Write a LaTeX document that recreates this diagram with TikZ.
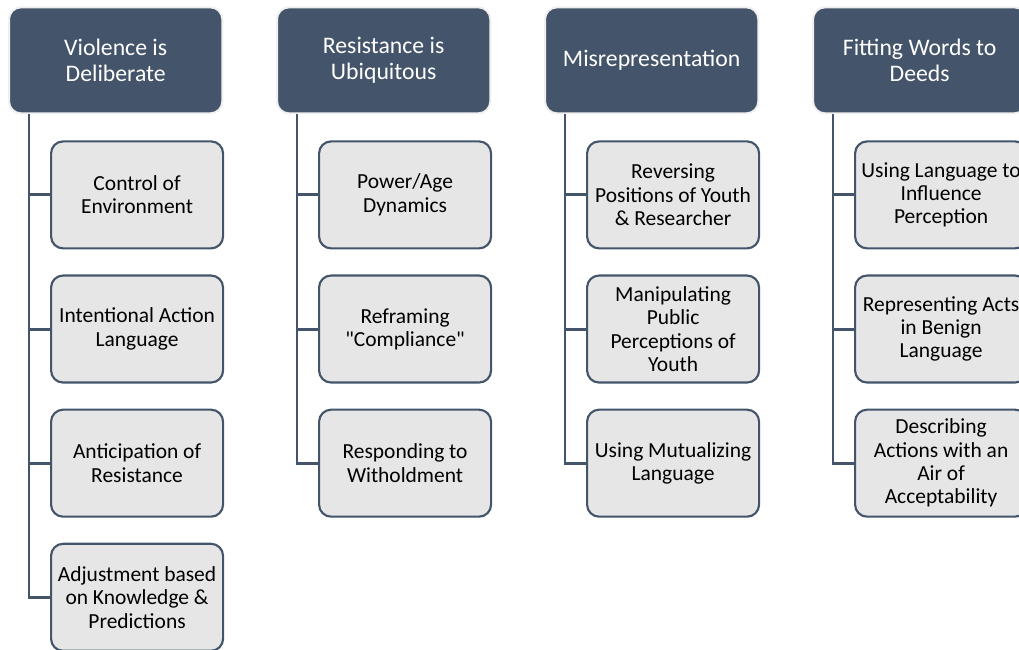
\documentclass[tikz,border=0pt]{standalone}
\usepackage{fontspec}
\setmainfont{Carlito}
\usepackage{tikz}
\usetikzlibrary{positioning}

\definecolor{slate}{HTML}{44546A}
\definecolor{paper}{HTML}{E7E6E6}

\begin{document}
\begin{tikzpicture}[node distance=18.75pt]
        % Styles
        \tikzstyle{head} = [rectangle, draw=gray!12, line width=1.5pt, fill=slate, text=white, align=center, rounded corners=9pt, minimum width=160pt, minimum height=79.5pt, font=\fontsize{17.8}{20}\selectfont]
        \tikzstyle{sub} = [rectangle, draw=slate, line width=1.6pt, fill=paper, align=center, rounded corners=9pt, minimum width=129pt, minimum height=80.25pt, inner sep=0.5pt, font=\fontsize{16.1}{17.5}\selectfont]
        \tikzstyle{link} = [draw=slate, line width=2.2pt]

        % Page frame
        \useasboundingbox (-6pt,4.75pt) rectangle (758.25pt,-482pt);

        % Headers
        \node [head, anchor=north west] at (0,0) (vid) {Violence is\\Deliberate};
        \node [head, right=39.5pt of vid] (riu) {Resistance is\\Ubiquitous};
        \node [head, right=39.5pt of riu] (mis) {Misrepresentation};
        \node [head, right=39.5pt of mis] (fwd) {Fitting Words to\\Deeds};

        % Violence is Deliberate
        \node [sub, below right=19.5pt and 31.5pt of vid.south west] (vid1) {Control of\\Environment};
        \node [sub, below=of vid1] (vid2) {Intentional Action\\Language};
        \node [sub, below=of vid2] (vid3) {Anticipation of\\Resistance};
        \node [sub, below=of vid3] (vid4) {Adjustment based\\on Knowledge \&\\Predictions};

        % Resistance is Ubiquitous
        \node [sub, below right=19.5pt and 31.5pt of riu.south west] (riu1) {Power/Age\\Dynamics};
        \node [sub, below=of riu1] (riu2) {Reframing\\\textquotedbl Compliance\textquotedbl};
        \node [sub, below=of riu2] (riu3) {Responding to\\Witholdment};

        % Misrepresentation
        \node [sub, below right=19.5pt and 31.5pt of mis.south west] (mis1) {Reversing\\Positions of Youth\\\& Researcher};
        \node [sub, below=of mis1] (mis2) {Manipulating\\Public\\Perceptions of\\Youth};
        \node [sub, below=of mis2] (mis3) {Using Mutualizing\\Language};

        % Fitting Words to Deeds
        \node [sub, below right=19.5pt and 31.5pt of fwd.south west] (fwd1) {Using Language to\\Influence\\Perception};
        \node [sub, below=of fwd1] (fwd2) {Representing Acts\\in Benign\\Language};
        \node [sub, below=of fwd2] (fwd3) {Describing\\Actions with an\\Air of\\Acceptability};

        % Connectors
        \path [link] ([xshift=15.75pt]vid.south west) |- (vid1.west);
        \path [link] ([xshift=15.75pt]vid.south west) |- (vid2.west);
        \path [link] ([xshift=15.75pt]vid.south west) |- (vid3.west);
        \path [link] ([xshift=15.75pt]vid.south west) |- (vid4.west);
        \path [link] ([xshift=15.75pt]riu.south west) |- (riu1.west);
        \path [link] ([xshift=15.75pt]riu.south west) |- (riu2.west);
        \path [link] ([xshift=15.75pt]riu.south west) |- (riu3.west);
        \path [link] ([xshift=15.75pt]mis.south west) |- (mis1.west);
        \path [link] ([xshift=15.75pt]mis.south west) |- (mis2.west);
        \path [link] ([xshift=15.75pt]mis.south west) |- (mis3.west);
        \path [link] ([xshift=15.75pt]fwd.south west) |- (fwd1.west);
        \path [link] ([xshift=15.75pt]fwd.south west) |- (fwd2.west);
        \path [link] ([xshift=15.75pt]fwd.south west) |- (fwd3.west);
    \end{tikzpicture}
\end{document}
